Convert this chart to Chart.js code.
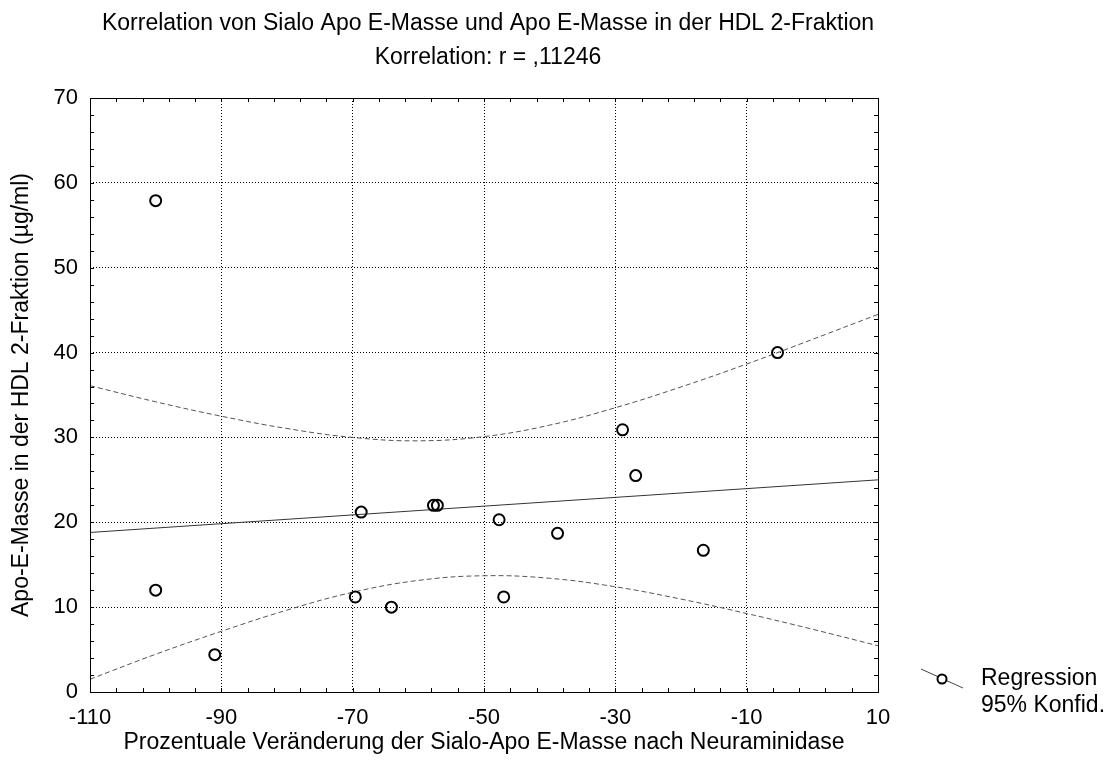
<!DOCTYPE html>
<html>
<head>
<meta charset="utf-8">
<script src="https://cdn.jsdelivr.net/npm/chart.js@4/dist/chart.umd.min.js"></script>
<style>
  html, body { margin: 0; padding: 0; background: #fff; }
  #wrap { width: 1115px; height: 771px; }
</style>
</head>
<body>
<div id="wrap"><canvas id="corrChart" width="1115" height="771"></canvas></div>
<script>
// Messwerte: Veränderung Sialo-Apo E (%) gegen Apo E in HDL 2 (µg/ml)
var sialoChange = [-100, -100, -91, -69.6, -64.1, -68.7, -57.7, -57.1, -47.7, -47, -38.8, -28.9, -26.9, -16.6, -5.3];
var apoEHdl2 = [57.9, 12, 4.4, 11.2, 10, 21.2, 22, 22, 20.3, 11.2, 18.7, 30.9, 25.5, 16.7, 40];

// Regressionsgerade (Endpunkte)
var regX = [-110, 10];
var regY = [18.8, 25.0];

// 95%-Konfidenzband
var bandX = [-110, -100, -90, -80, -70, -60, -50, -40, -30, -20, -10, 0, 10];
var bandUpper = [36.1, 34.2, 32.5, 31.05, 30.0, 29.6, 30.1, 31.45, 33.5, 35.95, 38.65, 41.55, 44.5];
var bandLower = [1.5, 4.45, 7.15, 9.65, 11.75, 13.15, 13.7, 13.4, 12.4, 10.95, 9.25, 7.4, 5.45];

var xTicks = [-110, -90, -70, -50, -30, -10, 10];
var yTicks = [0, 10, 20, 30, 40, 50, 60, 70];

var titleLines = [
  "Korrelation von Sialo Apo E-Masse und Apo E-Masse in der HDL 2-Fraktion",
  "Korrelation: r = ,11246"
];
var legendLabels = ["Regression", "95% Konfid."];

var FONT = "'Liberation Sans', Arial, Helvetica, sans-serif";

function pairs(xs, ys) {
  return xs.map(function (x, i) { return { x: x, y: ys[i] }; });
}

// Rahmen, kleine Teilstriche, Titel und Legende
var framePlugin = {
  id: "frame",
  afterDraw: function (chart) {
    var ctx = chart.ctx;
    var a = chart.chartArea;
    var xs = chart.scales.x;
    var ys = chart.scales.y;
    ctx.save();
    ctx.strokeStyle = "#000";
    ctx.lineWidth = 1;
    ctx.setLineDash([]);
    ctx.strokeRect(Math.round(a.left) + 0.5, Math.round(a.top) + 0.5,
      Math.round(a.right - a.left), Math.round(a.bottom - a.top));

    ctx.beginPath();
    for (var v = -110; v <= 10; v += 4) {
      var px = Math.round(xs.getPixelForValue(v)) + 0.5;
      ctx.moveTo(px, a.bottom); ctx.lineTo(px, a.bottom - 4);
      ctx.moveTo(px, a.top); ctx.lineTo(px, a.top + 4);
    }
    for (var w = 0; w <= 70; w += 2) {
      var py = Math.round(ys.getPixelForValue(w)) + 0.5;
      ctx.moveTo(a.left, py); ctx.lineTo(a.left + 4, py);
      ctx.moveTo(a.right, py); ctx.lineTo(a.right - 4, py);
    }
    ctx.stroke();

    // Titel über der Zeichenfläche zentriert
    var cx = (a.left + a.right) / 2 + 4;
    ctx.fillStyle = "#000";
    ctx.font = "23px " + FONT;
    ctx.textAlign = "center";
    ctx.textBaseline = "middle";
    ctx.fillText(titleLines[0], cx, 23.5);
    ctx.fillText(titleLines[1], cx, 57.5);

    // Legende
    ctx.strokeStyle = "#444";
    ctx.beginPath();
    ctx.moveTo(921, 669);
    ctx.lineTo(963, 688);
    ctx.stroke();
    ctx.fillStyle = "#fff";
    ctx.strokeStyle = "#000";
    ctx.lineWidth = 2;
    ctx.beginPath();
    ctx.arc(942, 679, 4.5, 0, Math.PI * 2);
    ctx.fill();
    ctx.stroke();
    ctx.fillStyle = "#000";
    ctx.textAlign = "left";
    ctx.fillText(legendLabels[0], 981, 679);
    ctx.fillText(legendLabels[1], 981, 706);
    ctx.restore();
  }
};

var ctx = document.getElementById("corrChart").getContext("2d");
var corrChart = new Chart(ctx, {
  type: "scatter",
  data: {
    datasets: [
      {
        label: "Messwerte",
        data: pairs(sialoChange, apoEHdl2),
        pointRadius: 5.5,
        pointBorderWidth: 2,
        pointBorderColor: "#000",
        pointBackgroundColor: "rgba(255,255,255,0)",
        showLine: false,
        order: 0
      },
      {
        label: "Regression",
        data: pairs(regX, regY),
        showLine: true,
        borderColor: "#333",
        borderWidth: 1,
        pointRadius: 0,
        order: 1
      },
      {
        label: "Konfid. oben",
        data: pairs(bandX, bandUpper),
        showLine: true,
        borderColor: "#555",
        borderWidth: 1,
        borderDash: [5, 3],
        tension: 0.4,
        pointRadius: 0,
        order: 2
      },
      {
        label: "Konfid. unten",
        data: pairs(bandX, bandLower),
        showLine: true,
        borderColor: "#555",
        borderWidth: 1,
        borderDash: [5, 3],
        tension: 0.4,
        pointRadius: 0,
        order: 2
      }
    ]
  },
  options: {
    responsive: false,
    animation: false,
    layout: { padding: { top: 98, right: 237, left: 0, bottom: 0 } },
    plugins: {
      legend: { display: false },
      title: { display: false },
      tooltip: { enabled: false }
    },
    scales: {
      x: {
        type: "linear",
        min: -110,
        max: 10,
        afterFit: function (scale) { scale.height = 79; },
        afterBuildTicks: function (scale) {
          scale.ticks = xTicks.map(function (v) { return { value: v }; });
        },
        grid: {
          color: "#000",
          lineWidth: 1,
          drawTicks: false
        },
        border: { display: false, dash: [1, 2] },
        ticks: {
          color: "#000",
          padding: 13,
          font: { family: FONT, size: 22 },
          callback: function (v) { return String(v); }
        },
        title: {
          display: true,
          text: "Prozentuale Veränderung der Sialo-Apo E-Masse nach Neuraminidase",
          color: "#000",
          font: { family: FONT, size: 23 },
          padding: { top: 0, bottom: 15 }
        }
      },
      y: {
        type: "linear",
        min: 0,
        max: 70,
        afterFit: function (scale) { scale.width = 90; },
        afterBuildTicks: function (scale) {
          scale.ticks = yTicks.map(function (v) { return { value: v }; });
        },
        grid: {
          color: "#000",
          lineWidth: 1,
          drawTicks: false
        },
        border: { display: false, dash: [1, 2] },
        ticks: {
          color: "#000",
          padding: 12,
          font: { family: FONT, size: 22 },
          callback: function (v) { return String(v); }
        },
        title: {
          display: true,
          text: "Apo-E-Masse in der HDL 2-Fraktion (µg/ml)",
          color: "#000",
          font: { family: FONT, size: 23 },
          padding: { top: 8, bottom: 0 }
        }
      }
    }
  },
  plugins: [framePlugin]
});
</script>
</body>
</html>
